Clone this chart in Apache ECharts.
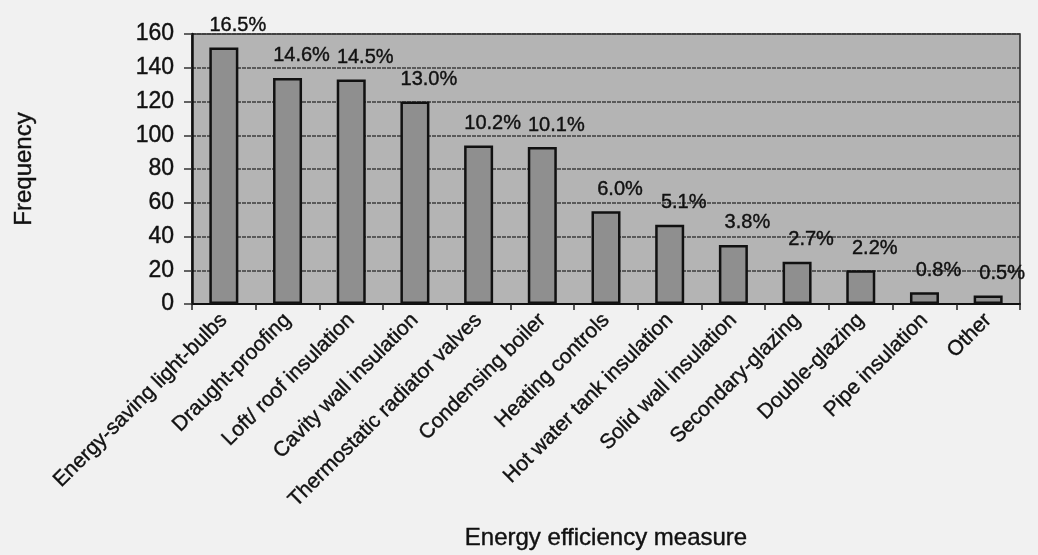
<!DOCTYPE html>
<html>
<head>
<meta charset="utf-8">
<title>Energy efficiency measures</title>
<script src="https://cdn.jsdelivr.net/npm/echarts@6/dist/echarts.min.js"></script>
<style>
  html, body { margin: 0; padding: 0; background: #f1f1f1; }
  #chart { width: 1038px; height: 555px; }
</style>
</head>
<body>
<div id="chart"></div>
<script>
// Energy efficiency measures and how often each was reported
const measures = [
  'Energy-saving light-bulbs',
  'Draught-proofing',
  'Loft/ roof insulation',
  'Cavity wall insulation',
  'Thermostatic radiator valves',
  'Condensing boiler',
  'Heating controls',
  'Hot water tank insulation',
  'Solid wall insulation',
  'Secondary-glazing',
  'Double-glazing',
  'Pipe insulation',
  'Other'
];
const frequency = [152, 134, 133, 120, 94, 93, 55, 47, 35, 25, 20, 7, 5];
const yTicks = [0, 20, 40, 60, 80, 100, 120, 140, 160];

const total = frequency.reduce((a, b) => a + b, 0);
const FONT = '"Liberation Sans", Arial, sans-serif';
// slightly heavy ink for all text
const ink = { color: '#111', textBorderColor: '#111', textBorderWidth: 0.4, fontFamily: FONT };

const chart = echarts.init(document.getElementById('chart'));
chart.setOption({
  backgroundColor: '#f1f1f1',
  animation: false,
  textStyle: { fontFamily: FONT, color: '#111' },
  grid: {
    left: 192, right: 18, top: 34, bottom: 251,
    show: true,
    backgroundColor: '#b4b4b4',
    borderColor: '#2a2a2a',
    borderWidth: 1.5
  },
  xAxis: {
    type: 'category',
    data: measures,
    boundaryGap: true,
    name: 'Energy efficiency measure',
    nameLocation: 'middle',
    nameGap: 222,
    nameTextStyle: Object.assign({ fontSize: 24 }, ink),
    axisLine: { show: true, lineStyle: { color: '#111', width: 2 } },
    axisTick: { show: true, length: 6, lineStyle: { color: '#222', width: 1.5 } },
    axisLabel: Object.assign({
      interval: 0,
      rotate: 45,
      margin: 13,
      fontSize: 21
    }, ink)
  },
  yAxis: {
    type: 'value',
    min: yTicks[0],
    max: yTicks[yTicks.length - 1],
    interval: yTicks[1] - yTicks[0],
    name: 'Frequency',
    nameLocation: 'middle',
    nameGap: 156,
    nameRotate: 90,
    nameTextStyle: Object.assign({ fontSize: 24 }, ink),
    axisLine: { show: true, lineStyle: { color: '#111', width: 2.5 } },
    axisTick: { show: true, length: 8, lineStyle: { color: '#333', width: 1.5 } },
    axisLabel: Object.assign({ fontSize: 23, margin: 18 }, ink),
    splitLine: { show: true, lineStyle: { color: '#3c3c3c', width: 1.5, type: [4, 1] } }
  },
  series: [{
    type: 'bar',
    data: frequency,
    barWidth: 29,
    itemStyle: { color: '#8f8f8f', borderColor: '#111', borderWidth: 2.5 },
    label: Object.assign({
      show: true,
      position: 'top',
      distance: 12,
      offset: [14, 0],
      fontSize: 20,
      formatter: p => (p.value / total * 100).toFixed(1) + '%'
    }, ink)
  }]
});
</script>
</body>
</html>
